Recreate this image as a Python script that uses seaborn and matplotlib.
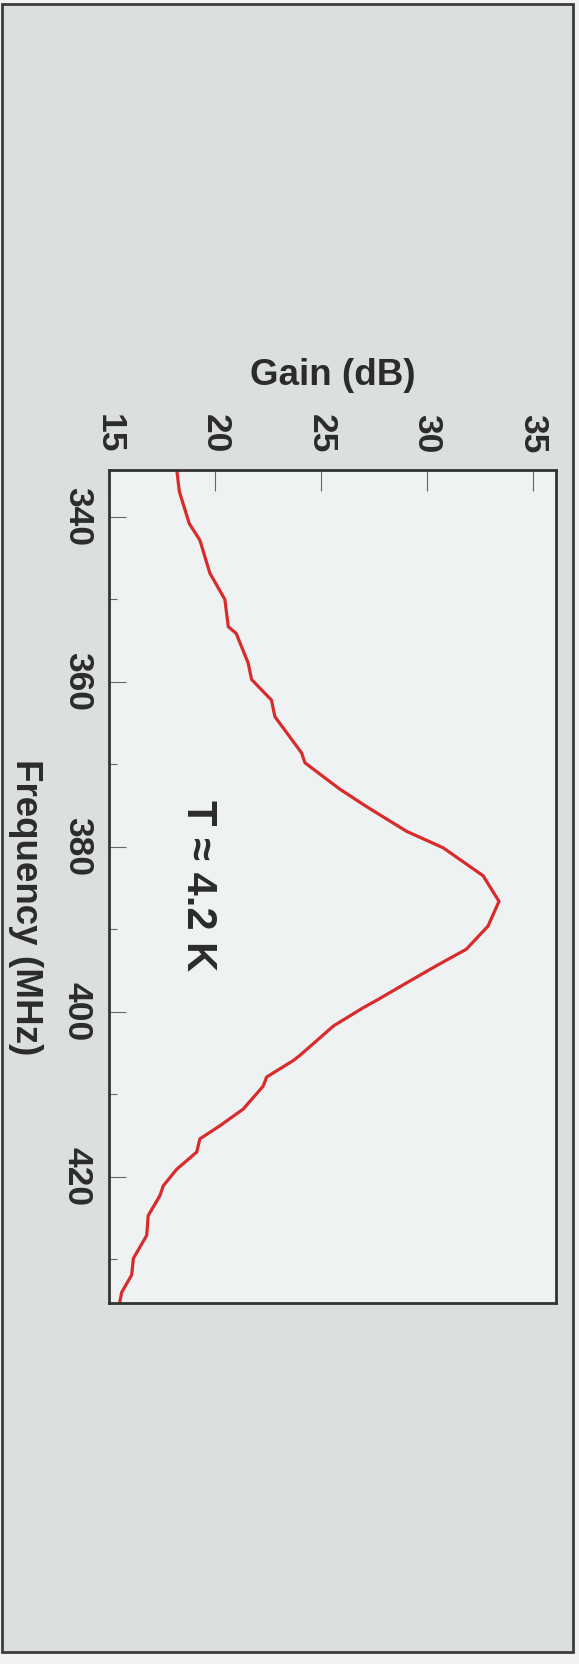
import matplotlib
matplotlib.use("Agg")
import matplotlib.pyplot as plt
from matplotlib.patches import Rectangle
from matplotlib.ticker import MultipleLocator
import seaborn as sns
import pandas as pd

# Amplifier gain trace measured at T ≈ 4.2 K
frequency_mhz = [334.3, 336.9, 340.8, 342.8, 346.8, 350.0, 353.3, 354.1, 357.7,
                 359.7, 362.2, 364.2, 368.6, 369.8, 373.0, 375.1, 378.1, 380.1,
                 383.5, 386.6, 389.6, 392.4, 394.4, 396.5, 398.5, 399.5, 401.7,
                 405.3, 405.9, 407.9, 409.0, 411.8, 413.8, 415.4, 417.0, 419.1,
                 421.1, 422.3, 424.7, 427.1, 429.9, 431.9, 434.0, 435.3]
gain_db = [18.20, 18.32, 18.79, 19.29, 19.76, 20.47, 20.63, 21.00, 21.57,
           21.73, 22.67, 22.83, 24.09, 24.25, 25.90, 27.15, 29.04, 30.77,
           32.66, 33.41, 32.89, 31.87, 30.46, 29.04, 27.70, 27.00, 25.60,
           24.00, 23.70, 22.44, 22.28, 21.33, 20.24, 19.29, 19.14, 18.19,
           17.56, 17.40, 16.85, 16.78, 16.15, 16.07, 15.60, 15.50]

gain_ticks = [15, 20, 25, 30, 35]
freq_ticks = [340, 360, 380, 400, 420]

sns.set_theme(style="white")
plt.rcParams["font.family"] = ["Liberation Sans", "DejaVu Sans"]

W, H = 579, 1664
fig = plt.figure(figsize=(W / 100, H / 100), dpi=100, facecolor="#f1f2f2")

# Grey panel with a dark frame, kept behind the axes
fig.patches.append(Rectangle((2 / W, 1 - 1652 / H), 571 / W, 1648 / H,
                             transform=fig.transFigure, facecolor="#dcdfe0",
                             edgecolor="#3c3c3c", linewidth=2.0, zorder=-10))

ax = fig.add_axes([109 / W, 1 - 1303 / H, 447 / W, 833 / H])
ax.set_zorder(1)
ax.set_facecolor("#eef2f3")

df = pd.DataFrame({"Gain (dB)": gain_db, "Frequency (MHz)": frequency_mhz})
sns.lineplot(data=df, x="Gain (dB)", y="Frequency (MHz)", sort=False,
             estimator=None, color="#d92b2b", linewidth=2.3, ax=ax)

ax.set_xlim(15, 36.1)
ax.set_ylim(435.3, 334.3)

ink = "#2b2b2b"
for s in ax.spines.values():
    s.set_visible(True)
    s.set_color("#333333")
    s.set_linewidth(2.0)

ax.xaxis.tick_top()
ax.set_xticks(gain_ticks)
ax.set_xticklabels([str(t) for t in gain_ticks], fontweight="bold")
ax.set_yticks(freq_ticks)
ax.set_yticklabels([str(t) for t in freq_ticks], fontweight="bold")
ax.yaxis.set_minor_locator(MultipleLocator(10))

ax.tick_params(axis="x", which="major", direction="in", length=15, width=0.8,
               color="#666666", labelsize=25.5, labelcolor=ink, pad=12,
               labelrotation=-90, top=True, bottom=False)
ax.tick_params(axis="y", which="major", direction="in", length=12, width=0.8,
               color="#666666", labelsize=25.5, labelcolor=ink, pad=11,
               labelrotation=-90, left=True, right=False)
ax.tick_params(axis="y", which="minor", direction="in", length=6, width=0.8,
               color="#666666", left=True, right=False)
for lab in ax.get_yticklabels():
    lab.set_verticalalignment("center")

ax.xaxis.set_label_position("top")
ax.set_xlabel("Gain (dB)", fontsize=26.5, fontweight="bold", color=ink,
              ha="center", va="center")
ax.xaxis.set_label_coords(0.501, 1.114)
ax.set_ylabel("Frequency (MHz)", fontsize=26.5, fontweight="bold", color=ink,
              rotation=-90, ha="center", va="center")
ax.yaxis.set_label_coords(-0.186, 0.475)

ax.text(19.2, 384.7, "T ≈ 4.2 K", fontsize=30, fontweight="bold", color=ink,
        rotation=-90, ha="center", va="center")

fig.savefig("out.png", dpi=100, facecolor=fig.get_facecolor())
